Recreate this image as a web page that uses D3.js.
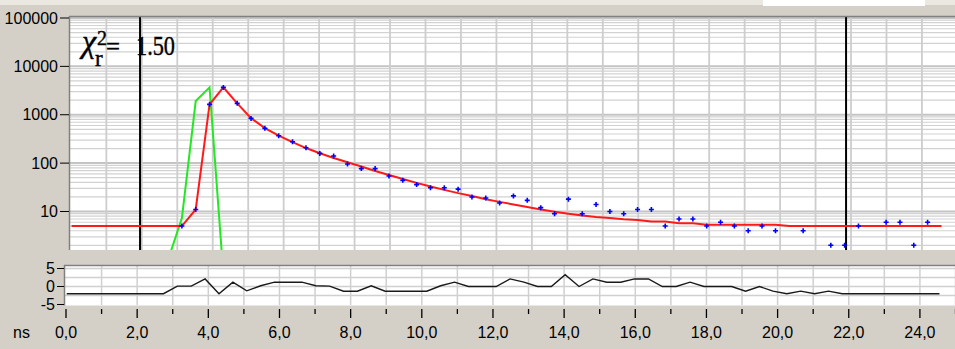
<!DOCTYPE html>
<html>
<head>
<meta charset="utf-8">
<script src="https://cdn.jsdelivr.net/npm/d3@7"></script>
<style>
body { margin: 0; background: #d4d0c8; }
svg { display: block; }
.lbl { font-family: "Liberation Sans Narrow", "Arial Narrow", "Liberation Sans", sans-serif; font-size: 16px; fill: #000; }
.chi { font-family: "Liberation Serif", "DejaVu Serif", serif; fill: #000; stroke: #000; stroke-width: 0.4; }
</style>
</head>
<body>
<div id="chart"></div>
<script>
// channel times (ns)
var times = [0.02,0.40,0.79,1.18,1.57,1.96,2.35,2.74,3.13,3.52,3.91,4.30,4.69,5.08,5.47,5.86,
  6.25,6.63,7.02,7.41,7.80,8.19,8.58,8.97,9.36,9.75,10.14,10.53,10.92,11.31,11.70,12.09,
  12.48,12.87,13.25,13.64,14.03,14.42,14.81,15.20,15.59,15.98,16.37,16.76,17.15,17.54,17.93,18.32,
  18.71,19.10,19.49,19.87,20.26,20.65,21.04,21.43,21.82,22.21,22.60,22.99,23.38,23.77,24.16,24.55];

// measured decay (counts), null = no point
var counts = [null,null,null,null,null,null,null,null,
  5,11,1640,3680,1720,840,524,368,277,208,
  159,140,96,77,77,54,44,36,31,31,
  29,20,19,15,21,17,12,9,18,9,
  14,10,9,11,11,5,7,7,5,6,
  5,4,5,4,1,4,1,2,2,5,
  1,6,6,2,6,null];

// fitted curve
var fit = [5,5,5,5,5,5,5,5,5,
  11,1640,3700,1720,850,530,370,272,205,160,
  128,104,85,69,57,47,39,33,28,24,
  21,18,15.8,14,12.4,11,9.9,9.0,8.3,7.7,
  7.3,6.9,6.7,6.2,6.2,5.7,5.7,
  5.3,5.3,5.3,5.3,5.3,5.3,
  5,5,5,5,5,5,5,5,5,5,5,5];

// instrument response
var irfTimes = [2.74,3.13,3.52,3.91,4.30];
var irfValues = [1,7.3,1920,3680,0.5];

// weighted residuals
var resid = [-2,-2,-2,-2,-2,-2,-2,-2,
  0.1,0.1,2.1,-2,1.2,-1.2,0.2,1.2,1.2,1.2,
  0.2,0.1,-1.3,-1.3,0.2,-1.3,-1.3,-1.3,-1.3,0.2,
  1.2,0,0,0,2.1,1.2,0,0,3.3,0,
  2.1,1.2,1.2,2.1,2.1,0,0,1.2,0,0,
  0,-1.3,0,-1.3,-2,-1.3,-2,-1.3,-2,-2,
  -2,-2,-2,-2,-2,-2];

var decadeTicks = [10,100,1000,10000,100000];
var residTicks = [5,0,-5];
var residGrid = [5,2.5,0,-2.5];
var nsTicks = d3.range(0, 26);
var fitRange = [1.95, 21.86];
var chiValue = "1.50";

var W = 955, H = 349;
var svg = d3.select("#chart").append("svg").attr("width", W).attr("height", H);

// top strip
svg.append("rect").attr("x", 0).attr("y", 0).attr("width", W).attr("height", 5).attr("fill", "#ebe8e2");
svg.append("rect").attr("x", 763).attr("y", 0).attr("width", 162).attr("height", 6).attr("fill", "#ffffff");

var xTop = d3.scaleLinear().domain([0, 25]).range([70.9, 957.4]);
var xBot = d3.scaleLinear().domain([0, 25]).range([66, 955.5]);
var y = d3.scaleLog().domain([1.6, 100000]).range([250, 18]);
var yR = d3.scaleLinear().domain([-5, 5]).range([304.5, 268.5]);

var comma = d3.formatLocale({decimal: ",", thousands: ".", grouping: [3], currency: ["", ""]}).format(".1f");

// ---------- top panel ----------
var topG = svg.append("g");
topG.append("rect").attr("x", 69).attr("y", 16).attr("width", W - 69).attr("height", 234).attr("fill", "#fff");

svg.append("clipPath").attr("id", "clipTop")
  .append("rect").attr("x", 70).attr("y", 17).attr("width", W - 70).attr("height", 233);

var minor = [];
[1, 10, 100, 1000, 10000].forEach(function(d) {
  for (var m = 1; m < 10; m++) {
    var v = d * m;
    if (v >= 1.6 && v <= 100000) minor.push(v);
  }
});
minor.push(100000);

var grid = topG.append("g").attr("clip-path", "url(#clipTop)");
grid.selectAll(".hg").data(minor).enter().append("line")
  .attr("x1", 69).attr("x2", W)
  .attr("y1", function(d) { return y(d); })
  .attr("y2", function(d) { return y(d); })
  .attr("stroke", function(d) { return decadeTicks.indexOf(d) >= 0 ? "#c4c4c4" : "#d2d2d2"; })
  .attr("stroke-width", function(d) { return decadeTicks.indexOf(d) >= 0 ? 2 : 1.2; });

grid.selectAll(".vg").data(nsTicks.filter(function(t) { return t > 0; })).enter().append("line")
  .attr("x1", function(d) { return xTop(d); })
  .attr("x2", function(d) { return xTop(d); })
  .attr("y1", 16).attr("y2", 250)
  .attr("stroke", "#cdcdcd").attr("stroke-width", 1.8);

// fit range markers
grid.selectAll(".mk").data(fitRange).enter().append("line")
  .attr("x1", function(d) { return xTop(d); })
  .attr("x2", function(d) { return xTop(d); })
  .attr("y1", 16).attr("y2", 250)
  .attr("stroke", "#000").attr("stroke-width", 2);

var plot = topG.append("g").attr("clip-path", "url(#clipTop)");

var irfLine = d3.line()
  .x(function(d, i) { return xTop(irfTimes[i]); })
  .y(function(d) { return y(d); });
plot.append("path").datum(irfValues)
  .attr("d", irfLine)
  .attr("fill", "none").attr("stroke", "#22e822").attr("stroke-width", 2);

var fitLine = d3.line()
  .x(function(d, i) { return xTop(times[i]); })
  .y(function(d) { return y(d); });
plot.append("path").datum(fit)
  .attr("d", fitLine)
  .attr("fill", "none").attr("stroke", "#ff1a1a").attr("stroke-width", 2);

var pts = counts.map(function(c, i) { return {t: times[i], c: c}; })
  .filter(function(d) { return d.c !== null; });
plot.selectAll(".pt").data(pts).enter().append("path")
  .attr("transform", function(d) { return "translate(" + xTop(d.t) + "," + y(d.c) + ")"; })
  .attr("d", "M-2.5,0H2.5M0,-2.5V2.5")
  .attr("stroke", "#0000ff").attr("stroke-width", 1.6).attr("fill", "none");

// chi-squared label
var chi = topG.append("g").attr("class", "chi");
chi.append("text").attr("x", 82).attr("y", 52).attr("font-size", 32).attr("font-style", "italic").text("\u03c7");
chi.append("text").attr("x", 97).attr("y", 45).attr("font-size", 20).text("2");
chi.append("text").attr("x", 95).attr("y", 66).attr("font-size", 23).text("r");
chi.append("text").attr("x", 106).attr("y", 55).attr("font-size", 26)
  .attr("textLength", 14).attr("lengthAdjust", "spacingAndGlyphs").text("=");
chi.append("text").attr("x", 136).attr("y", 55).attr("font-size", 27)
  .attr("textLength", 39).attr("lengthAdjust", "spacingAndGlyphs").text(chiValue);

// borders
topG.append("line").attr("x1", 69).attr("x2", W).attr("y1", 16.5).attr("y2", 16.5).attr("stroke", "#808080").attr("stroke-width", 1.5);
topG.append("line").attr("x1", 69.5).attr("x2", 69.5).attr("y1", 16).attr("y2", 250).attr("stroke", "#808080").attr("stroke-width", 1.5);

// left axis
var yAxis = topG.append("g");
yAxis.selectAll(".tk").data(decadeTicks).enter().append("line")
  .attr("x1", 60).attr("x2", 69)
  .attr("y1", function(d) { return y(d); }).attr("y2", function(d) { return y(d); })
  .attr("stroke", "#000").attr("stroke-width", 1);
yAxis.selectAll(".tl").data(decadeTicks).enter().append("text")
  .attr("class", "lbl")
  .attr("x", 58).attr("y", function(d) { return y(d); })
  .attr("dy", "0.35em").attr("text-anchor", "end")
  .text(function(d) { return d; });

// ---------- residual panel ----------
var bot = svg.append("g");
bot.append("rect").attr("x", 64).attr("y", 265).attr("width", W - 64).attr("height", 40.5).attr("fill", "#fff");
bot.selectAll(".rg").data(residGrid).enter().append("line")
  .attr("x1", 65).attr("x2", W)
  .attr("y1", function(d) { return yR(d); }).attr("y2", function(d) { return yR(d); })
  .attr("stroke", "#d0d0d0").attr("stroke-width", 1.5);
bot.selectAll(".rv").data(nsTicks.filter(function(t) { return t > 0; })).enter().append("line")
  .attr("x1", function(d) { return xBot(d); }).attr("x2", function(d) { return xBot(d); })
  .attr("y1", 265).attr("y2", 305)
  .attr("stroke", "#d0d0d0").attr("stroke-width", 1.5);

var resLine = d3.line()
  .x(function(d, i) { return xBot(times[i]); })
  .y(function(d) { return yR(d); });
bot.append("path").datum(resid)
  .attr("d", resLine)
  .attr("fill", "none").attr("stroke", "#1a1a1a").attr("stroke-width", 1.4);

bot.append("line").attr("x1", 64).attr("x2", W).attr("y1", 265.5).attr("y2", 265.5).attr("stroke", "#808080").attr("stroke-width", 1.5);
bot.append("line").attr("x1", 64.5).attr("x2", 64.5).attr("y1", 265).attr("y2", 305.5).attr("stroke", "#808080").attr("stroke-width", 1.5);

bot.selectAll(".rtk").data(residTicks).enter().append("line")
  .attr("x1", 57).attr("x2", 64)
  .attr("y1", function(d) { return yR(d); }).attr("y2", function(d) { return yR(d); })
  .attr("stroke", "#000");
bot.selectAll(".rtl").data(residTicks).enter().append("text")
  .attr("class", "lbl")
  .attr("x", 55).attr("y", function(d) { return yR(d); })
  .attr("dy", "0.35em").attr("text-anchor", "end")
  .text(function(d) { return d; });

// bottom time axis
bot.selectAll(".xt").data(nsTicks).enter().append("line")
  .attr("x1", function(d) { return xBot(d); }).attr("x2", function(d) { return xBot(d); })
  .attr("y1", 309).attr("y2", function(d) { return d % 2 === 0 ? 318 : 314; })
  .attr("stroke", "#000").attr("stroke-width", 1.3);
bot.selectAll(".xl").data(nsTicks.filter(function(t) { return t % 2 === 0; })).enter().append("text")
  .attr("class", "lbl")
  .attr("x", function(d) { return xBot(d); }).attr("y", 332)
  .attr("dy", "0.35em").attr("text-anchor", "middle")
  .text(function(d) { return comma(d); });
bot.append("text").attr("class", "lbl").attr("x", 13).attr("y", 332).attr("dy", "0.35em").text("ns");
</script>
</body>
</html>
